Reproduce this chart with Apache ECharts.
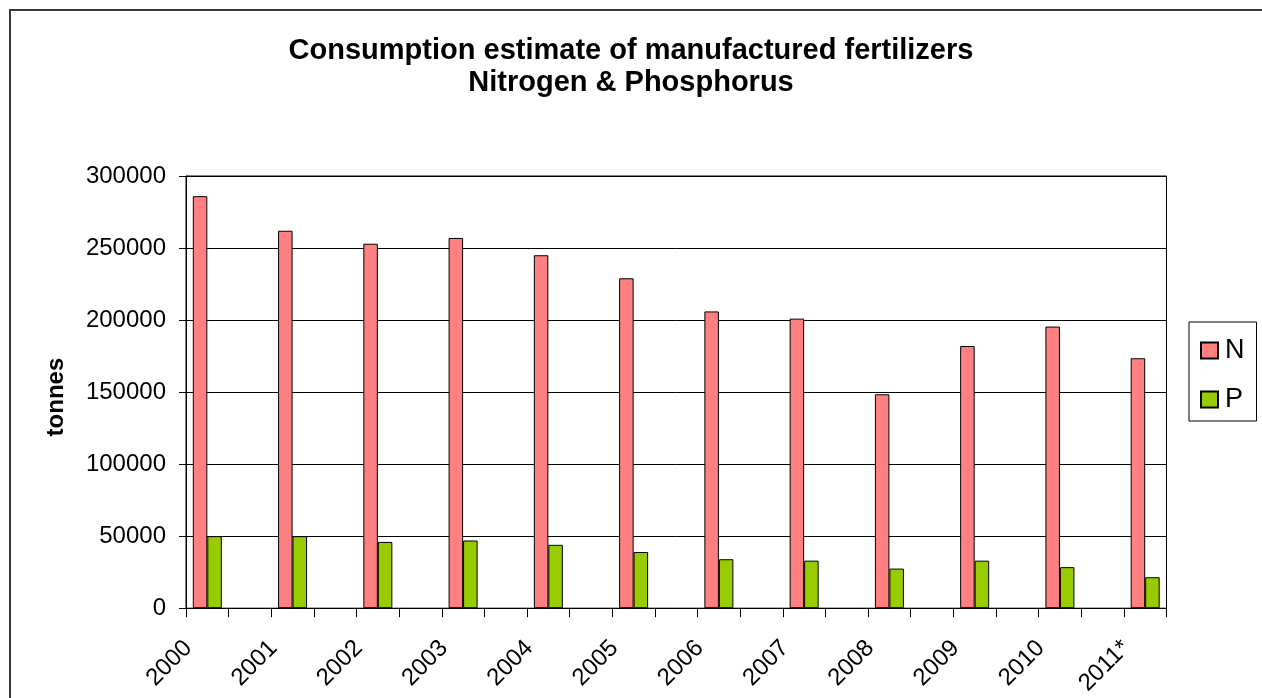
<!DOCTYPE html>
<html>
<head>
<meta charset="utf-8">
<style>
  html, body { margin: 0; padding: 0; background: #fff; }
  #chart { width: 1262px; height: 698px; }
</style>
<script src="https://cdn.jsdelivr.net/npm/echarts@6/dist/echarts.min.js"></script>
</head>
<body>
<div id="chart"></div>
<script>
// Fertilizer consumption estimate, tonnes per year
const years = ['2000', '2001', '2002', '2003', '2004', '2005', '2006', '2007', '2008', '2009', '2010', '2011*'];
const nitrogen = [286000, 262000, 253000, 257000, 245000, 229000, 206000, 201000, 148500, 182000, 195500, 173500];
const phosphorus = [50000, 50000, 46000, 47000, 44000, 39000, 34000, 33000, 27500, 33000, 28500, 21500];
const yTicks = [0, 50000, 100000, 150000, 200000, 250000, 300000];

const FONT = '"Liberation Sans", Arial, sans-serif';

// Each year sits in its own slot with an empty slot between neighbours
const slots = [];
const nSlots = [];
const pSlots = [];
years.forEach((y, i) => {
  slots.push(y);
  nSlots.push(nitrogen[i]);
  pSlots.push(phosphorus[i]);
  if (i < years.length - 1) {
    slots.push('');
    nSlots.push(null);
    pSlots.push(null);
  }
});

const chart = echarts.init(document.getElementById('chart'), null, { renderer: 'canvas' });

chart.setOption({
  backgroundColor: '#fff',
  animation: false,
  title: {
    text: 'Consumption estimate of manufactured fertilizers\nNitrogen & Phosphorus',
    left: 'center',
    top: 35,
    padding: [0, 0, 0, 14],
    textStyle: {
      fontFamily: FONT,
      fontSize: 29,
      fontWeight: 'bold',
      color: '#000',
      lineHeight: 32
    }
  },
  legend: {
    orient: 'vertical',
    left: 1189,
    top: 322,
    padding: [15, 12, 8, 11],
    itemGap: 22,
    itemWidth: 17,
    itemHeight: 16,
    borderColor: '#000',
    borderWidth: 1,
    icon: 'rect',
    textStyle: { fontFamily: FONT, fontSize: 27, color: '#000', padding: [0, 0, 0, 2] },
    data: ['N', 'P']
  },
  grid: {
    left: 186,
    right: 95.5,
    top: 176,
    bottom: 89,
    show: true,
    borderColor: '#000',
    borderWidth: 1,
    backgroundColor: '#fff'
  },
  xAxis: {
    type: 'category',
    data: slots,
    boundaryGap: true,
    axisLine: { lineStyle: { color: '#000', width: 1 } },
    axisTick: { show: true, interval: 0, length: 9, lineStyle: { color: '#000' } },
    axisLabel: {
      interval: 0,
      rotate: 45,
      margin: 17,
      padding: [0, 27, 0, 0],
      fontFamily: FONT,
      fontSize: 24,
      color: '#000'
    }
  },
  yAxis: {
    type: 'value',
    min: yTicks[0],
    max: yTicks[yTicks.length - 1],
    interval: yTicks[1] - yTicks[0],
    name: 'tonnes',
    nameLocation: 'middle',
    nameGap: 118,
    nameTextStyle: { fontFamily: FONT, fontSize: 24, fontWeight: 'bold', color: '#000', padding: [0, 10, 0, 0] },
    axisLine: { show: true, lineStyle: { color: '#000', width: 1 } },
    axisTick: { show: true, length: 7, lineStyle: { color: '#000' } },
    axisLabel: {
      margin: 20,
      fontFamily: FONT,
      fontSize: 24,
      color: '#000',
      formatter: (v) => String(v)
    },
    splitLine: { show: true, lineStyle: { color: '#000', width: 1 } }
  },
  series: [
    {
      name: 'N',
      type: 'bar',
      data: nSlots,
      barWidth: 14.5,
      barGap: '0%',
      itemStyle: { color: '#FF8080', borderColor: '#000', borderWidth: 1 }
    },
    {
      name: 'P',
      type: 'bar',
      data: pSlots,
      barWidth: 14.5,
      barGap: '0%',
      itemStyle: { color: '#99CC00', borderColor: '#000', borderWidth: 1 }
    }
  ],
  graphic: [
    {
      type: 'rect',
      silent: true,
      z: 100,
      shape: { x: 10, y: 10, width: 1400, height: 900 },
      style: { fill: 'none', stroke: '#3a3a3a', lineWidth: 2 }
    }
  ]
});
</script>
</body>
</html>
